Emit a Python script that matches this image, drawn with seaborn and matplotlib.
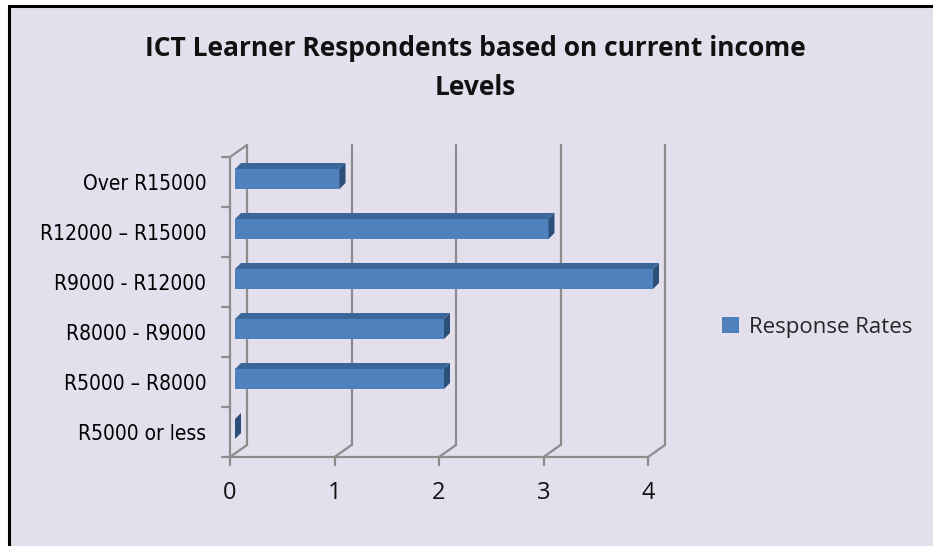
import pandas as pd
import matplotlib.pyplot as plt
import seaborn as sns
from matplotlib.patches import Rectangle, Patch

# data
bands = ["Over R15000", "R12000 – R15000", "R9000 - R12000",
         "R8000 - R9000", "R5000 – R8000", "R5000 or less"]
responses = [1, 3, 4, 2, 2, 0]
x_ticks = [0, 1, 2, 3, 4]

BG = "#E4DFEC"
BAR = "#4F81BD"
BAR_TOP = "#3B6699"
BAR_SIDE = "#2C4F7A"
GRID = "#8C8C8C"

df = pd.DataFrame({"band": bands, "rate": responses})

sns.set_theme(style="white")
W, H = 933, 546
fig = plt.figure(figsize=(W / 100, H / 100), dpi=100)
fig.patch.set_facecolor("white")

# chart area with black border on left/top
fig.patches.append(Rectangle((9 / W, -0.2), 1.2, 1 - 6 / H + 0.2,
                             transform=fig.transFigure, facecolor=BG,
                             edgecolor="black", lw=2.2, zorder=-10))

left, right, top, bottom = 230, 648, 157, 457
ax = fig.add_axes([left / W, 1 - bottom / H, (right - left) / W, (bottom - top) / H])
ax.set_facecolor("none")

sns.barplot(data=df, x="rate", y="band", orient="h", color=BAR, width=0.4,
            saturation=1, ax=ax, zorder=3)

n = len(bands)
ax.set_xlim(0, 4)
ax.set_ylim(n - 0.5, -0.5)
sx = 4 / (right - left)      # data units per pixel (x)
sy = n / (bottom - top)      # data units per pixel (y)

# 3D frame: back wall, floor diagonals, front axes
bx, by = 17 * sx, 12 * sy
y0, y1 = -0.5, n - 0.5
lw = 1.6
for t in x_ticks:
    ax.plot([t + bx, t + bx], [y0 - by, y1 - by], color=GRID, lw=lw, clip_on=False, zorder=1)
    ax.plot([t, t + bx], [y1, y1 - by], color=GRID, lw=lw, clip_on=False, zorder=1)
    ax.plot([t, t], [y1, y1 + 8 * sy], color=GRID, lw=lw, clip_on=False, zorder=1)
ax.plot([0, bx], [y0, y0 - by], color=GRID, lw=lw, clip_on=False, zorder=1)
ax.plot([0, 0], [y0, y1], color=GRID, lw=lw, clip_on=False, zorder=2)
ax.plot([0, 4], [y1, y1], color=GRID, lw=lw, clip_on=False, zorder=2)
for i in range(n + 1):
    yy = i - 0.5
    ax.plot([-8 * sx, 0], [yy, yy], color=GRID, lw=lw, clip_on=False, zorder=2)

# give the bars a shallow 3D look
dx, dy = 6 * sx, 6 * sy
for p in ax.patches:
    p.set_x(p.get_x() + 5 * sx)
    p.set_y(p.get_y() - 3 * sy)
    p.set_edgecolor("none")
    p.set_clip_on(False)
    x0, yt = p.get_x(), p.get_y()
    x1, yb = x0 + p.get_width(), yt + p.get_height()
    ax.fill([x0, x1, x1 + dx, x0 + dx], [yt, yt, yt - dy, yt - dy],
            color=BAR_TOP, lw=0, zorder=3, clip_on=False)
    ax.fill([x1, x1 + dx, x1 + dx, x1], [yt, yt - dy, yb - dy, yb],
            color=BAR_SIDE, lw=0, zorder=3, clip_on=False)

for s in ax.spines.values():
    s.set_visible(False)
ax.set_xticks(x_ticks)
ax.set_xlabel("")
ax.set_ylabel("")
ax.tick_params(axis="x", length=0, pad=17, labelsize=17, labelcolor="#111111")
ax.tick_params(axis="y", length=0, pad=17, labelsize=15, labelcolor="black")
for lab in ax.get_xticklabels():
    lab.set_family(["Open Sans", "DejaVu Sans"])
for lab in ax.get_yticklabels():
    lab.set_family("DejaVu Sans")
    lab.set_fontstretch("condensed")
    lab.set_fontsize(15)

fig.text(475 / W, 1 - 68 / H, "ICT Learner Respondents based on current income\nLevels",
         ha="center", va="center", fontsize=19, fontweight="bold",
         family=["Open Sans", "DejaVu Sans"], linespacing=1.6, color="#111111")

fig.legend(handles=[Patch(facecolor=BAR, edgecolor="none", label="Response Rates")],
           loc="center left", bbox_to_anchor=(702 / W, 1 - 327 / H), frameon=False,
           handlelength=0.75, handleheight=0.75, handletextpad=0.45,
           prop={"family": "Open Sans", "size": 16})

fig.savefig("out.png", dpi=100, facecolor=fig.get_facecolor())
